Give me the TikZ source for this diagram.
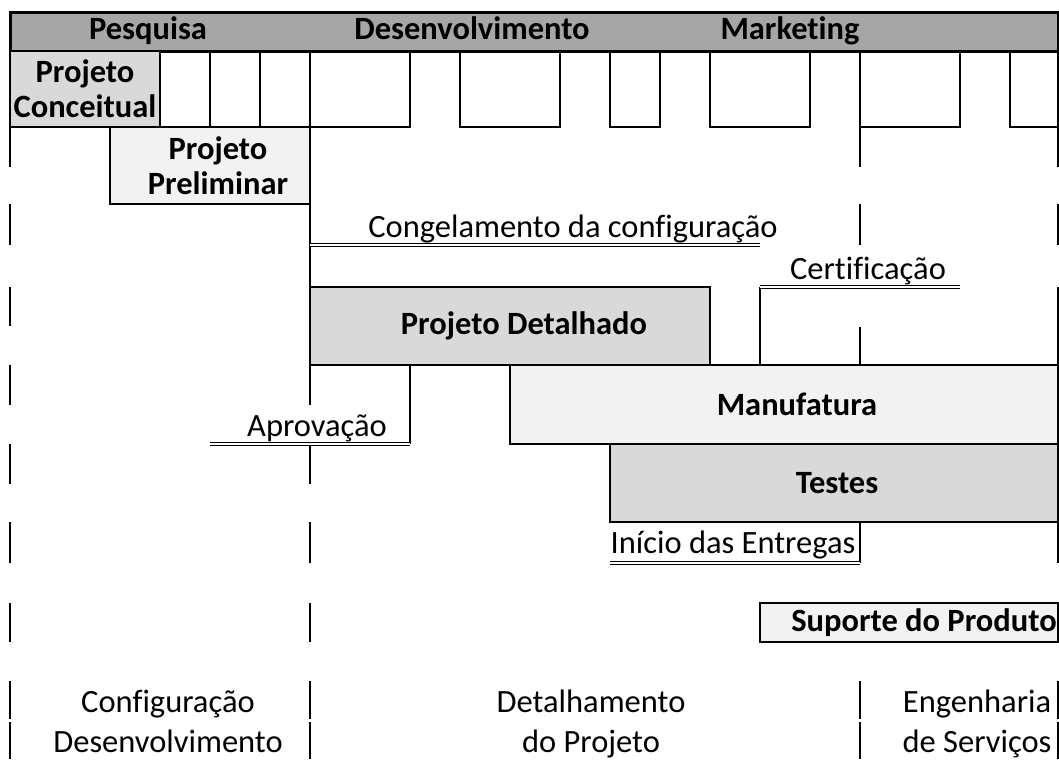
\documentclass[tikz,border=0pt]{standalone}
\usepackage{fontspec}
\setmainfont[Ligatures=NoCommon]{Carlito}
\usepackage{xcolor}
\usetikzlibrary{positioning}

\definecolor{hdgray}{HTML}{A6A6A6}
\definecolor{midgray}{HTML}{D9D9D9}
\definecolor{lightgray}{HTML}{F2F2F2}
\newcommand{\cellfont}{\fontsize{32.5}{39}\selectfont}

\tikzset{
  bar/.style={draw, line width=2.6pt, anchor=north west, inner sep=0pt, outer sep=0pt,
    font=\cellfont\bfseries, align=center},
  hdtxt/.style={anchor=base, inner sep=0pt, font=\cellfont\bfseries},
  lbl/.style={anchor=base, inner sep=0pt, font=\cellfont},
  grid/.style={line width=2.4pt},
  edge/.style={line width=2.6pt},
  dline/.style={line width=1.6pt, double distance=1.3pt}
}

\begin{document}
\begin{tikzpicture}[x=1pt, y=-1pt]
        \useasboundingbox (0,0) rectangle (1059,761);

        % gridline pieces
        \foreach \ya/\yb in {127/167, 204/245, 287/326, 365/405, 444/484, 522/563, 603/642, 681/719, 722/759}
          \draw[grid] (10,\ya) -- (10,\yb);
        \foreach \ya/\yb in {127/405, 444/484, 522/563, 603/642, 681/719, 722/759}
          \draw[grid] (310,\ya) -- (310,\yb);
        \foreach \ya/\yb in {127/167, 204/245, 327/365, 681/719, 722/759}
          \draw[grid] (860,\ya) -- (860,\yb);
        \foreach \ya/\yb in {127/167, 204/245, 287/563, 603/642, 681/719, 722/759}
          \draw[grid] (1058,\ya) -- (1058,\yb);

        % header
        \node[bar, fill=hdgray, line width=3pt, minimum width=1048pt, minimum height=39pt] (hdr) at (10,12) {};
        \node[hdtxt] (pesq) at (148,39) {Pesquisa};
        \node[hdtxt] (desenv) at (472,39) {Desenvolvimento};
        \node[hdtxt] (mkt) at (790,39) {Marketing};

        % empty cells of the second row
        \foreach \xa/\xb in {160/210, 210/260, 260/310, 310/410, 460/560, 610/660, 710/810, 860/960, 1010/1058}
          \draw[edge] (\xa,51) rectangle (\xb,127);

        % phases
        \node[bar, fill=midgray, minimum width=150pt, minimum height=76pt] (conc) at (10,51) {Projeto\\[-4pt]Conceitual};
        \node[bar, fill=lightgray, minimum width=200pt, minimum height=77pt] (prelim) at (110,127) {\hspace*{16pt}Projeto\\[-4pt]\hspace*{16pt}Preliminar};
        \node[bar, fill=midgray, minimum width=400pt, minimum height=78pt] (detal) at (310,287) {\hspace*{28pt}Projeto Detalhado};
        \node[bar, fill=lightgray, minimum width=548pt, minimum height=79pt] (manuf) at (510,365) {\hspace*{26pt}Manufatura};
        \node[bar, fill=midgray, minimum width=448pt, minimum height=78pt] (testes) at (610,444) {\hspace*{6pt}Testes};
        \node[bar, fill=lightgray, minimum width=298pt, minimum height=39pt] (suporte) at (760,603) {\hspace*{30pt}Suporte do Produto};

        % milestones
        \coordinate (congA) at (310,245);
        \coordinate (congB) at (760,245);
        \draw[dline] (congA) -- (congB);
        \node[lbl] (congel) at (573,237) {Congelamento da configuração};

        \coordinate (certA) at (760,287);
        \coordinate (certB) at (960,287);
        \draw[edge] (certA) -- (certA |- manuf.north);
        \draw[dline] (certA) -- (certB);
        \node[lbl] (cert) at (868,279) {Certificação};

        \coordinate (aprovA) at (210,444);
        \coordinate (aprovB) at (410,444);
        \draw[edge] (aprovB |- detal.south) -- (aprovB);
        \draw[dline] (aprovA) -- (aprovB);
        \node[lbl] (aprov) at (317,436) {Aprovação};

        \coordinate (inicA) at (610,563);
        \coordinate (inicB) at (860,563);
        \draw[edge] (inicB |- testes.south) -- (inicB);
        \draw[dline] (inicA) -- (inicB);
        \node[lbl] (inicio) at (733,553) {Início das Entregas};

        % bottom labels
        \node[lbl] (config) at (168,712) {Configuração};
        \node[lbl] (desenvb) at (168,752) {Desenvolvimento};
        \node[lbl] (detalh) at (591,712) {Detalhamento};
        \node[lbl] (doproj) at (591,752) {do Projeto};
        \node[lbl] (engen) at (977,712) {Engenharia};
        \node[lbl] (servic) at (977,752) {de Serviços};
      \end{tikzpicture}
\end{document}
